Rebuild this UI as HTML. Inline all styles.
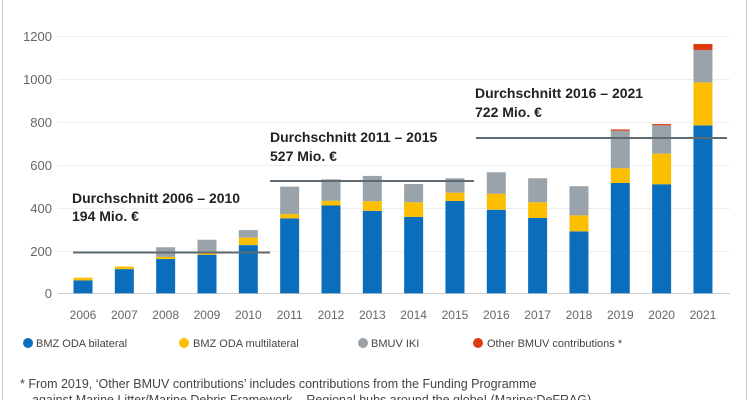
<!DOCTYPE html>
<html><head><meta charset="utf-8"><style>
body{margin:0;background:#fff;width:750px;height:400px;overflow:hidden;font-family:"Liberation Sans",sans-serif}
</style></head><body>
<svg width="750" height="400" xmlns="http://www.w3.org/2000/svg" font-family="Liberation Sans, sans-serif">
<line x1="2.5" y1="0" x2="2.5" y2="400" stroke="#ccc"/>
<line x1="746.5" y1="0" x2="746.5" y2="400" stroke="#ccc"/>
<g stroke="#eee" stroke-width="1">
<line x1="58" x2="730" y1="36.5" y2="36.5"/><line x1="58" x2="730" y1="79.5" y2="79.5"/><line x1="58" x2="730" y1="122.5" y2="122.5"/><line x1="58" x2="730" y1="165.5" y2="165.5"/><line x1="58" x2="730" y1="208.5" y2="208.5"/><line x1="58" x2="730" y1="251.5" y2="251.5"/>
</g>
<line x1="58" x2="730" y1="293.5" y2="293.5" stroke="#ccc"/>
<g fill="#666" font-size="13" text-anchor="end">
<text x="52" y="41">1200</text><text x="52" y="84">1000</text><text x="52" y="127">800</text><text x="52" y="170">600</text><text x="52" y="213">400</text><text x="52" y="256">200</text><text x="52" y="298">0</text>
</g>
<g id="bars"></g>
<g fill="#666" font-size="12" text-anchor="middle" id="xl"></g>
<g stroke="#5f6b73" stroke-width="2">
<line x1="73" x2="270" y1="252.5" y2="252.5"/>
<line x1="270" x2="474" y1="181" y2="181"/>
<line x1="476" x2="727" y1="138" y2="138"/>
</g>
<g font-size="14" font-weight="bold" fill="#222">
<text x="72" y="203">Durchschnitt 2006 – 2010</text><text x="72" y="221">194 Mio. €</text>
<text x="270" y="142">Durchschnitt 2011 – 2015</text><text x="270" y="161">527 Mio. €</text>
<text x="475" y="98">Durchschnitt 2016 – 2021</text><text x="475" y="117">722 Mio. €</text>
</g>
<g font-size="11" fill="#444">
<circle cx="28" cy="343" r="5" fill="#0a6ebd"/><text x="36" y="347">BMZ ODA bilateral</text>
<circle cx="184" cy="343" r="5" fill="#fbbf00"/><text x="193" y="347">BMZ ODA multilateral</text>
<circle cx="363" cy="343" r="5" fill="#9aa3a9"/><text x="371" y="347">BMUV IKI</text>
<circle cx="478" cy="343" r="5" fill="#dd3a10"/><text x="487" y="347">Other BMUV contributions *</text>
</g>
<text x="20" y="388" font-size="12.5" fill="#444">* From 2019, ‘Other BMUV contributions’ includes contributions from the Funding Programme</text>
<text x="32" y="404" font-size="12.5" fill="#444">against Marine Litter/Marine Debris Framework – Regional hubs around the globe! (Marine:DeFRAG)</text>
</svg>
<script>
var d=[[60,73,73,73],[113,125,125,125],[160,170,215,215],[180,186,250,250],[225,260,295,295],[350,370,498,498],[410,432,532,532],[385,430,548,548],[357,425,510,510],[431,470,537,537],[390,465,565,565],[352,425,537,537],[289,364,500,500],[515,584,759,765],[509,652,784,790],[784,985,1136,1164]];
var c=["#0a6ebd","#fbbf00","#9aa3a9","#dd3a10"],ns="http://www.w3.org/2000/svg",g=document.getElementById("bars"),xl=document.getElementById("xl");
function Y(v){return 293.3-v*0.2142}
d.forEach(function(r,i){var cx=83+i*41.33,p=0;r.forEach(function(v,k){if(v>p){var e=document.createElementNS(ns,"rect");e.setAttribute("x",cx-9.5);e.setAttribute("width",19);e.setAttribute("y",Y(v));e.setAttribute("height",Y(p)-Y(v));e.setAttribute("fill",c[k]);g.appendChild(e);}p=v;});
var t=document.createElementNS(ns,"text");t.setAttribute("x",cx);t.setAttribute("y",319);t.textContent=2006+i;xl.appendChild(t);});
</script>
</body></html>
